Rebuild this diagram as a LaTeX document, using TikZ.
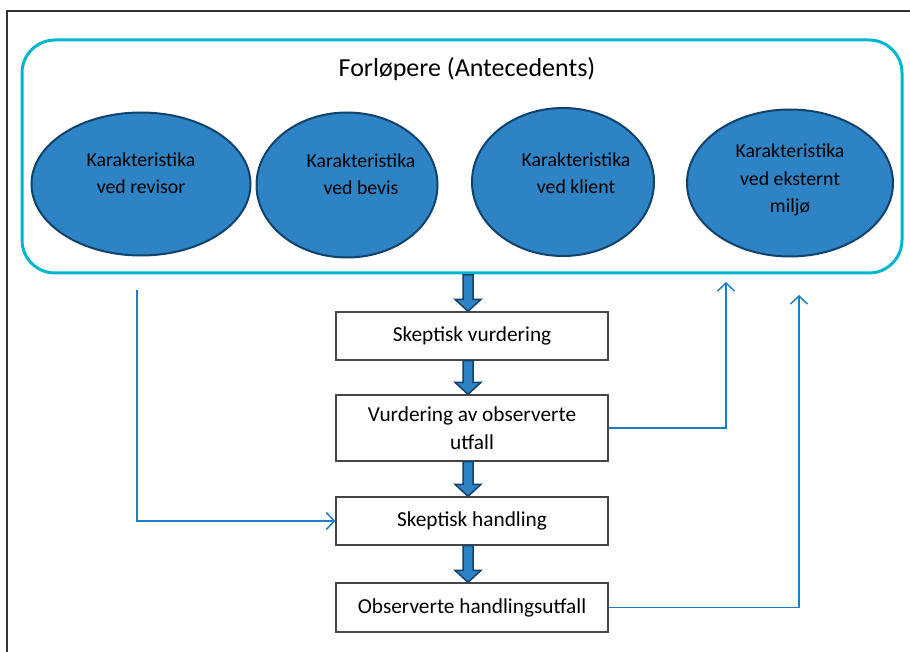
\documentclass[tikz,border=0pt]{standalone}
\usepackage{fontspec}
\setmainfont{Carlito}
\usetikzlibrary{shapes.geometric,arrows.meta,calc}
\definecolor{cyanframe}{RGB}{0,182,206}
\definecolor{ellfill}{RGB}{46,131,196}
\definecolor{navy}{RGB}{16,66,108}
\definecolor{linkblue}{RGB}{30,125,195}
\definecolor{boxgray}{RGB}{70,70,70}
\tikzset{
  ell/.style={ellipse, draw=navy, line width=2pt, fill=ellfill, inner sep=0pt},
  elltext/.style={align=center, font=\fontsize{19.8}{27.5}\selectfont, text=black},
  stepbox/.style={draw=boxgray, line width=1.3pt, fill=white, minimum width=272pt, align=center,
    font=\fontsize{21.3}{28}\selectfont, inner sep=0pt},
  barrow/.style={fill=ellfill, draw=navy, line width=1.5pt, line join=miter},
  link/.style={draw=linkblue, line width=1.5pt, -{Straight Barb[length=8pt,width=17pt,line width=1.5pt]}},
}
\newcommand\blockarr[2]{%
  \draw[barrow] let \p1=(#1), \p2=(#2) in
    (\x2-5pt,\y1) -- (\x2-5pt,\y2+12pt) -- (\x2-13pt,\y2+12pt) -- (\x2,\y2)
    -- (\x2+13pt,\y2+12pt) -- (\x2+5pt,\y2+12pt) -- (\x2+5pt,\y1) -- cycle;}
\begin{document}
\begin{tikzpicture}[x=1pt,y=-1pt]
\useasboundingbox (0,0) rectangle (910,652);
% outer frame
\draw[black!80, line width=1.2pt] (7,652) -- (7,11) -- (910,11);
% antecedents container
\node[draw=cyanframe, line width=3pt, rounded corners=33pt, minimum width=880pt, minimum height=233pt, inner sep=0pt]
  (ante) at (462,156.5) {};
\node[font=\fontsize{26}{30}\selectfont] (title) at (467,69) {Forløpere (Antecedents)};
% ellipses
\node[ell, minimum width=219pt, minimum height=143pt] (e1) at (141,184) {};
\node[ell, minimum width=181pt, minimum height=145pt] (e2) at (347,185) {};
\node[ell, minimum width=182pt, minimum height=148pt] (e3) at (563,182) {};
\node[ell, minimum width=206pt, minimum height=147pt] (e4) at (790,183) {};
\node[elltext] (t1) at (141,173) {Karakteristika\\ved revisor};
\node[elltext] (t2) at (361,174) {Karakteristika\\ved bevis};
\node[elltext] (t3) at (576,173) {Karakteristika\\ved klient};
\node[elltext] (t4) at (790,180) {Karakteristika\\ved eksternt\\miljø};
% process boxes
\node[stepbox, minimum height=48pt] (b1) at (472,336) {Skeptisk vurdering};
\node[stepbox, minimum height=66pt] (b2) at (472,428) {Vurdering av observerte\\utfall};
\node[stepbox, minimum height=48pt] (b3) at (472,521) {Skeptisk handling};
\node[stepbox, minimum height=49pt] (b4) at (472,607.5) {Observerte handlingsutfall};
% block arrows
\coordinate (a0) at (468,275);
\coordinate (a1) at ($(b1.north)+(-4,0)$);
\coordinate (a1s) at ($(b1.south)+(-4,0)$);
\coordinate (a2) at ($(b2.north)+(-4,0)$);
\coordinate (a2s) at ($(b2.south)+(-4,0)$);
\coordinate (a3) at ($(b3.north)+(-4,0)$);
\coordinate (a3s) at ($(b3.south)+(-4,0)$);
\coordinate (a4) at ($(b4.north)+(-4,0)$);
\blockarr{a0}{a1}
\blockarr{a1s}{a2}
\blockarr{a2s}{a3}
\blockarr{a3s}{a4}
% feedback / influence links
\coordinate (lstart) at (137,290);
\coordinate (r1end) at (726,282);
\coordinate (r2end) at (799,295);
\draw[link] (lstart) |- (b3.west);
\draw[link] (b2.east) -| (r1end);
\draw[link] (b4.east) -| (r2end);
\end{tikzpicture}
\end{document}
